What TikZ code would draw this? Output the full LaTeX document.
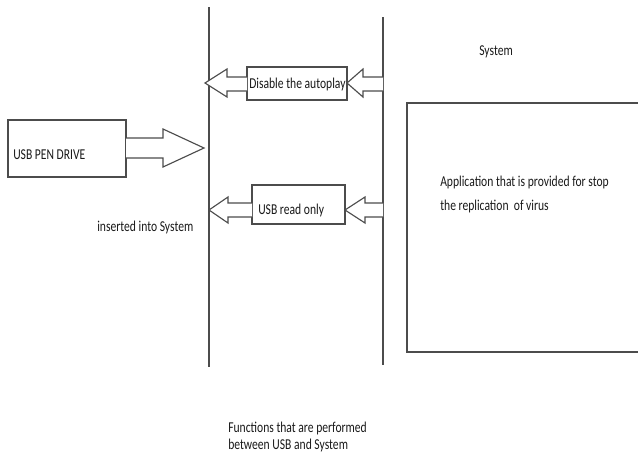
\documentclass[tikz,border=0pt]{standalone}
\usepackage{fontspec}
\setmainfont{Carlito}[FakeStretch=0.77]
\begin{document}
\begin{tikzpicture}[x=0.75pt,y=-0.75pt,
  ln/.style={draw=black!70,line width=0.85pt},
  box/.style={ln,fill=white,inner sep=0pt,outer sep=0pt},
  lbl/.style={font=\fontsize{11.3pt}{13pt}\selectfont,text=black!90,inner sep=0pt,anchor=base west},
  blk/.style={ln,fill=white,line join=miter}]
\useasboundingbox (0,0) rectangle (638,468);

% the two boundaries between USB and System
\coordinate (l1) at (209,7);   \coordinate (l2) at (209,367);
\coordinate (r1) at (383,17);  \coordinate (r2) at (383,365);
\draw[ln] (l1) -- (l2);
\draw[ln] (r1) -- (r2);

% USB pen drive
\node[box,minimum width=118*0.75pt,minimum height=57*0.75pt,anchor=north west] (usb) at (8,120) {};
\node[lbl] (usbt) at (13,159) {USB PEN DRIVE};
\draw[blk] (126,138) -- (163,138) -- (163,129) -- (204,148) -- (163,167) -- (163,158) -- (126,158);
\node[lbl] (ins) at (97,231) {inserted into System};

% functions between USB and System
\node[box,minimum width=100*0.75pt,minimum height=33*0.75pt,anchor=north west] (auto) at (247,67) {};
\node[lbl] (autot) at (249,88) {Disable the autoplay};
\draw[blk] (247,77) -- (227,77) -- (227,69) -- (205,83) -- (227,97) -- (227,91) -- (247,91);
\draw[blk] (383,77) -- (363,77) -- (363,69) -- (347,83) -- (363,97) -- (363,91) -- (383,91);

\node[box,minimum width=93*0.75pt,minimum height=39*0.75pt,anchor=north west] (ro) at (252,185) {};
\node[lbl] (rot) at (258,214) {USB read only};
\draw[blk] (252,203) -- (228,203) -- (228,197) -- (209,210) -- (228,223) -- (228,217) -- (252,217);
\draw[blk] (383,203) -- (365,203) -- (365,197) -- (345,210) -- (365,223) -- (365,217) -- (383,217);

% system side
\node[lbl] (sys) at (479,55) {System};
\draw[ln] (645,103) -- (407,103) -- (407,352) -- (645,352);
\node[lbl] (app1) at (440,186) {Application that is provided for stop};
\node[lbl] (app2) at (440,210) {the replication\ \ of virus};

\node[lbl] (fn1) at (228,432) {Functions that are performed};
\node[lbl] (fn2) at (228,449) {between USB and System};
\end{tikzpicture}
\end{document}
